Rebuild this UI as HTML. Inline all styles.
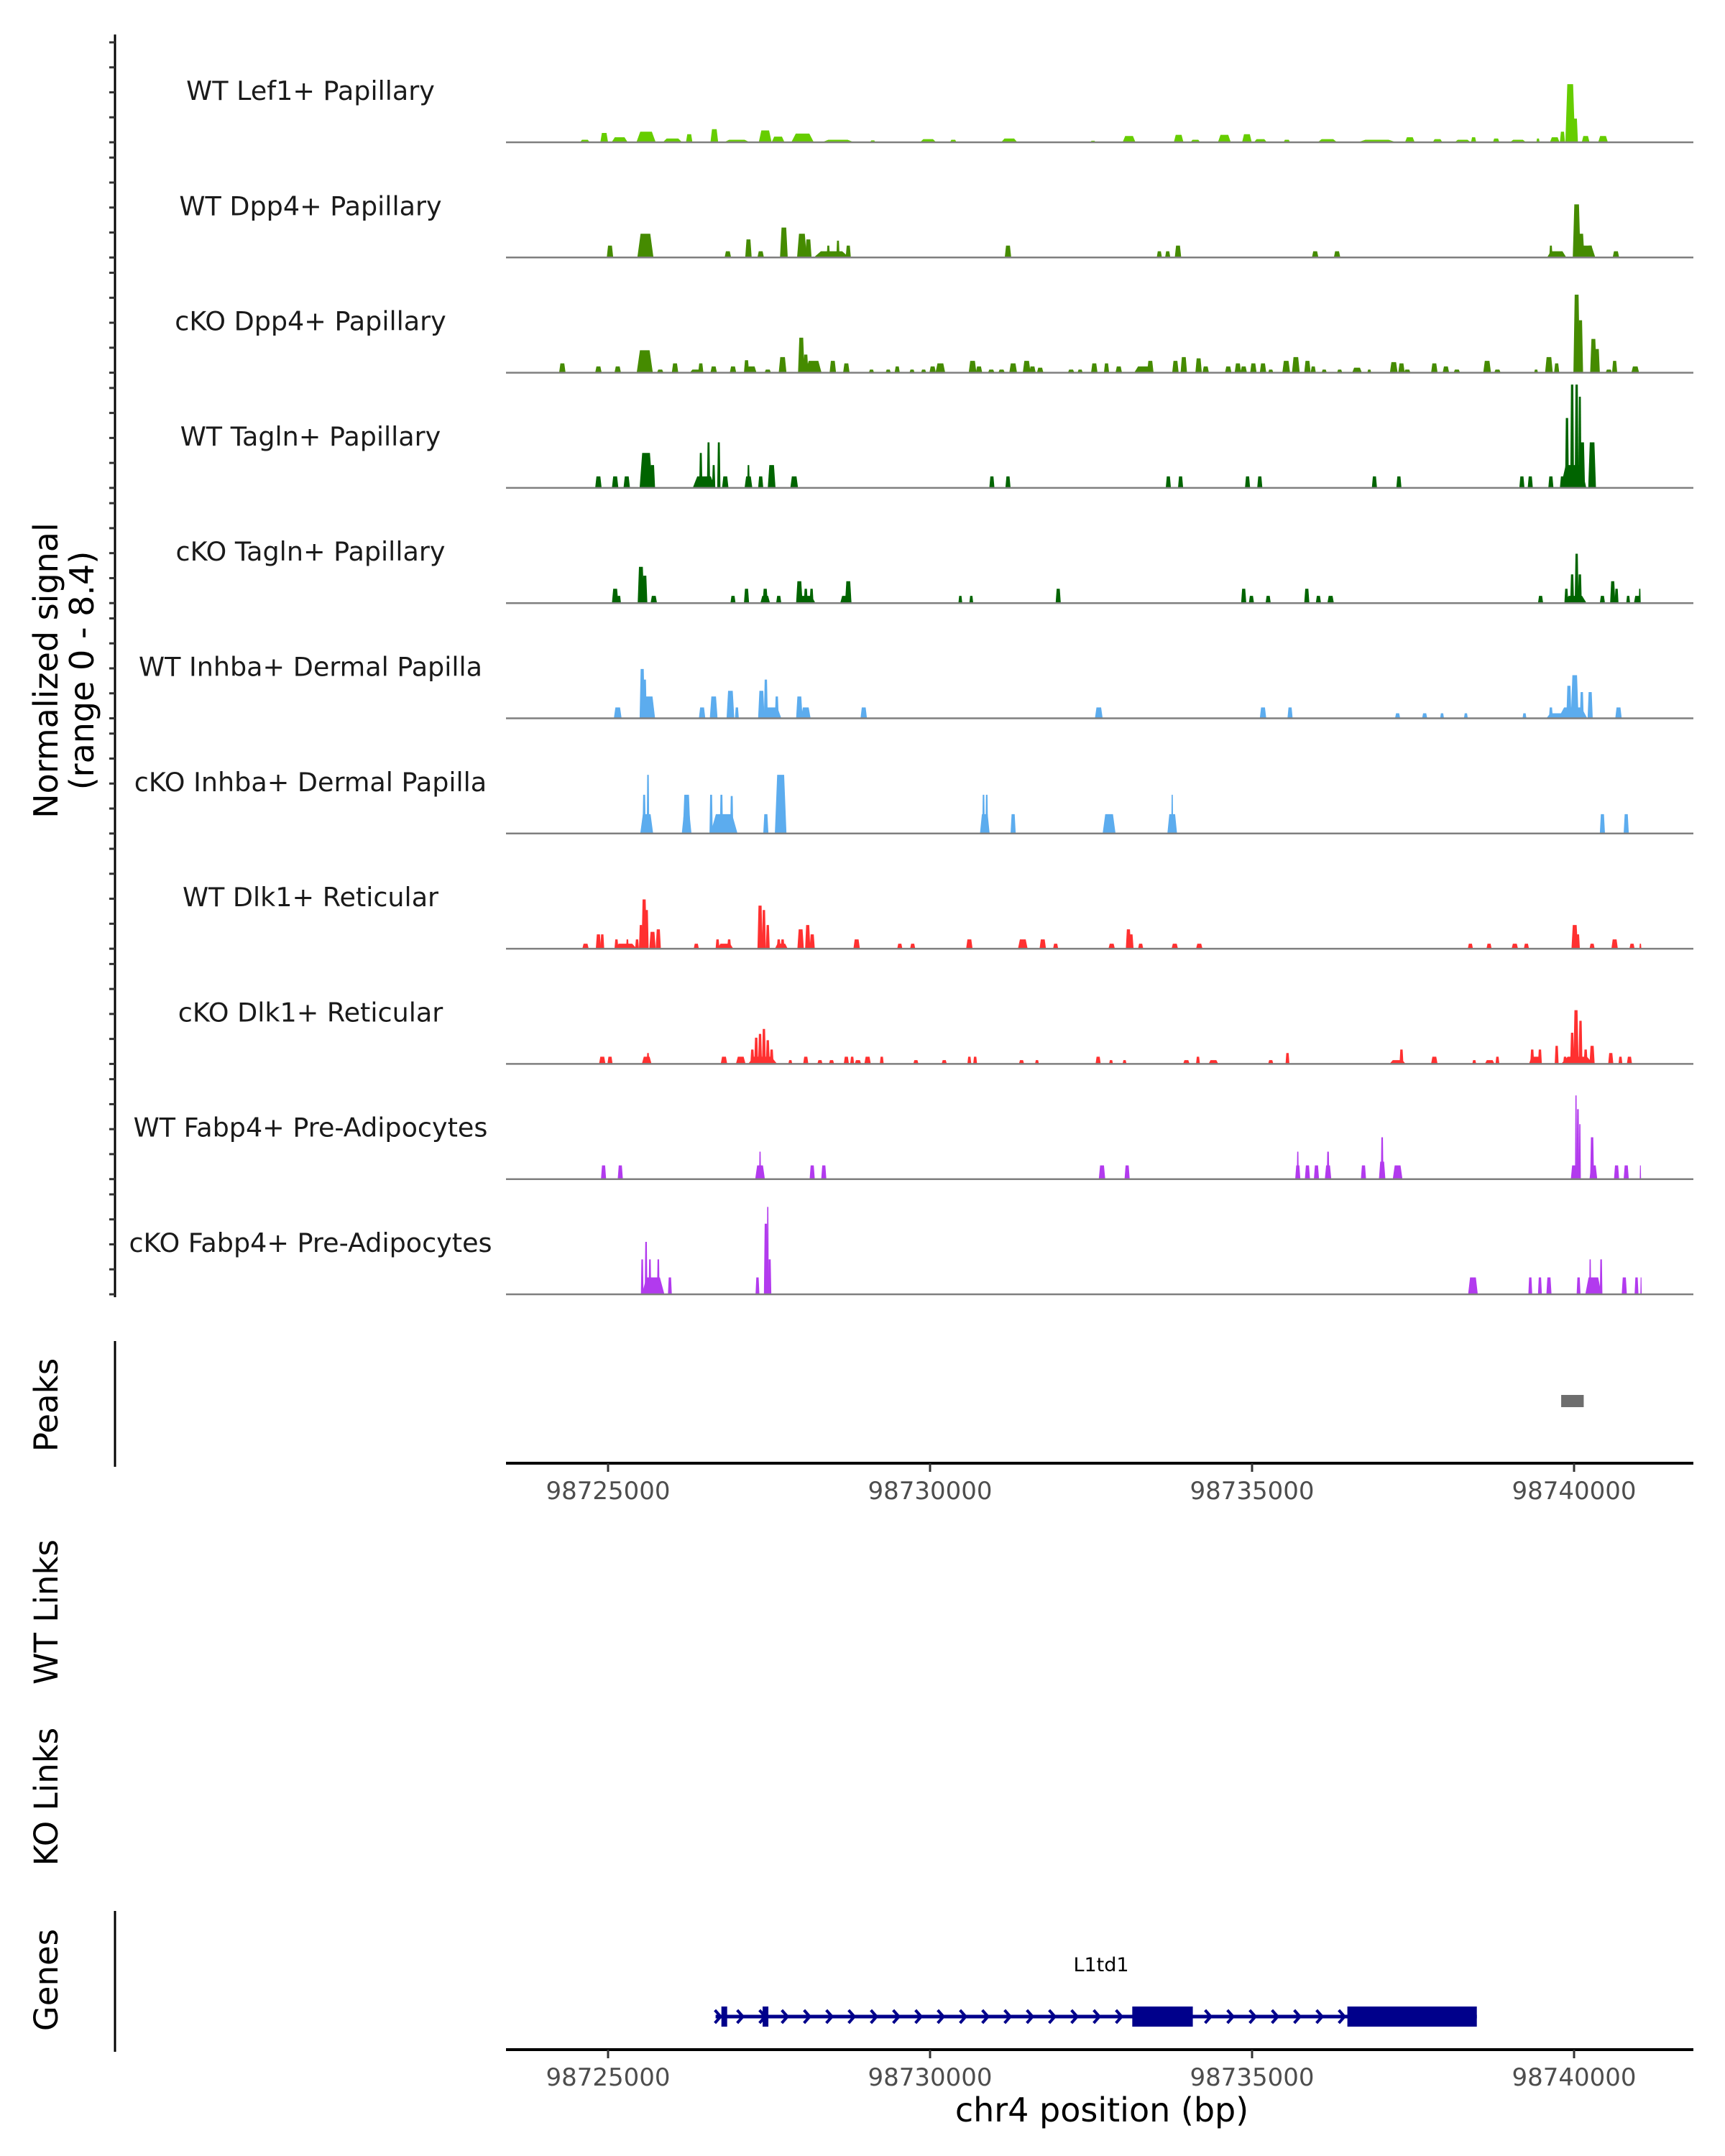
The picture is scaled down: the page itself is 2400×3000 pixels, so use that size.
<!DOCTYPE html>
<html><head><meta charset="utf-8">
<style>
html,body{margin:0;padding:0;background:#fff;}
svg{display:block;}
text{font-family:"DejaVu Sans","Liberation Sans",sans-serif;}
</style></head>
<body>
<svg id="chart" width="2400" height="3000" viewBox="0 0 2400 3000" xmlns="http://www.w3.org/2000/svg">
<rect x="0" y="0" width="2400" height="3000" fill="#ffffff"/>
</svg>
<script>
// ---- data (positions in kb relative to chr4:98,700,000; [center_kb, width_kb, signal]) ----
const trackNames = ["WT Lef1+ Papillary","WT Dpp4+ Papillary","cKO Dpp4+ Papillary","WT Tagln+ Papillary","cKO Tagln+ Papillary","WT Inhba+ Dermal Papilla","cKO Inhba+ Dermal Papilla","WT Dlk1+ Reticular","cKO Dlk1+ Reticular","WT Fabp4+ Pre-Adipocytes","cKO Fabp4+ Pre-Adipocytes"];
const trackColors = ["#66CD00","#458B00","#458B00","#006400","#006400","#5CACEE","#5CACEE","#FF3030","#FF3030","#B23AEE","#B23AEE"];
const WT_Lef1 = [[24.64,.15,.2],[24.94,.12,.75],[25.18,.25,.4],[25.59,.3,.85],[26.0,.3,.3],[26.26,.1,.65],[26.65,.12,1.05],[27.0,.4,.2],[27.44,.2,.95],[27.64,.2,.45],[28.02,.35,.7],[28.57,.5,.2],[29.11,.08,.15],[29.97,.25,.25],[30.36,.1,.2],[31.23,.25,.3],[32.53,.08,.12],[33.09,.2,.5],[33.86,.15,.6],[34.12,.15,.2],[34.57,.2,.6],[34.92,.15,.65],[35.13,.2,.25],[35.54,.1,.2],[36.17,.3,.25],[36.94,.6,.2],[37.45,.15,.4],[37.88,.15,.25],[38.27,.25,.2],[38.44,.08,.4],[38.79,.1,.3],[39.13,.25,.2],[39.44,.05,.3],[39.70,.15,.4],[39.82,.08,.85],[39.94,.15,4.65],[40.02,.08,1.9],[40.18,.12,.5],[40.45,.15,.5]];
const WT_Dpp4 = [[25.03,.1,.95],[25.58,.25,1.9],[26.86,.1,.5],[27.18,.1,1.45],[27.37,.1,.5],[27.73,.12,2.4],[28.01,.15,1.9],[28.11,.1,1.45],[28.47,.55,.5],[28.42,.05,.95],[28.57,.05,1.35],[28.73,.08,.95],[31.21,.1,.95],[33.56,.08,.5],[33.69,.08,.5],[33.85,.1,.95],[35.98,.1,.5],[36.32,.1,.5],[39.73,.3,.5],[39.64,.05,.95],[40.04,.12,4.25],[40.11,.1,1.9],[40.18,.3,.95],[40.25,.08,.95],[40.65,.1,.5]];
const cKO_Dpp4 = [[24.29,.1,.75],[24.85,.1,.5],[25.15,.1,.5],[25.57,.25,1.8],[25.81,.1,.25],[26.04,.1,.75],[26.37,.2,.25],[26.44,.08,.75],[26.64,.1,.5],[26.94,.1,.5],[27.15,.08,1.0],[27.23,.15,.5],[27.48,.1,.25],[27.71,.12,1.25],[28.0,.1,2.8],[28.07,.08,1.45],[28.19,.25,.95],[28.49,.1,.95],[28.70,.1,.75],[29.09,.08,.25],[29.35,.08,.25],[29.49,.08,.5],[29.72,.08,.25],[29.90,.08,.25],[30.04,.1,.5],[30.16,.15,.75],[30.66,.12,.95],[30.76,.1,.5],[30.95,.1,.25],[31.11,.1,.25],[31.29,.12,.75],[31.50,.12,.95],[31.59,.1,.5],[31.71,.1,.4],[32.19,.1,.25],[32.33,.08,.25],[32.55,.1,.75],[32.74,.08,.75],[32.93,.1,.5],[33.32,.3,.5],[33.42,.1,.95],[33.81,.1,.95],[33.94,.1,1.25],[34.17,.1,1.15],[34.28,.1,.5],[34.63,.1,.5],[34.78,.1,.75],[34.87,.1,.5],[35.02,.1,.75],[35.17,.1,.75],[35.29,.08,.25],[35.53,.12,.95],[35.68,.12,1.25],[35.86,.1,.95],[35.95,.08,.5],[36.12,.08,.25],[36.36,.08,.25],[36.63,.15,.4],[36.82,.06,.25],[37.20,.12,.85],[37.32,.1,.75],[37.41,.1,.25],[37.83,.1,.75],[38.01,.1,.5],[38.18,.1,.25],[38.65,.12,.95],[38.81,.1,.25],[39.41,.06,.25],[39.61,.12,1.25],[39.73,.08,.75],[40.04,.1,6.25],[40.10,.08,4.2],[40.30,.1,2.7],[40.36,.08,1.9],[40.54,.1,.25],[40.63,.08,.95],[40.95,.12,.5]];
const WT_Tagln = [[24.85,.1,.92],[25.11,.1,.92],[25.29,.1,.92],[25.59,.2,2.8],[25.69,.08,1.83],[26.49,.35,.92],[26.44,.05,2.8],[26.56,.05,3.65],[26.64,.05,1.83],[26.72,.05,3.65],[26.82,.1,.92],[27.18,.12,.92],[27.18,.04,1.83],[27.37,.08,.92],[27.54,.12,1.83],[27.89,.12,.92],[30.96,.08,.92],[31.21,.08,.92],[33.70,.08,.92],[33.89,.08,.92],[34.93,.08,.92],[35.12,.08,.92],[36.90,.08,.92],[37.28,.08,.92],[39.19,.08,.92],[39.32,.08,.92],[39.64,.08,.92],[39.82,.08,.92],[39.89,.06,5.6],[39.97,.06,8.27],[40.04,.06,8.27],[40.09,.05,7.3],[40.13,.08,3.65],[40.28,.12,3.65],[39.99,.4,1.83]];
const cKO_Tagln = [[25.11,.1,1.15],[25.17,.06,.58],[25.51,.1,2.9],[25.57,.08,2.2],[25.71,.1,.58],[26.94,.08,.58],[27.15,.08,1.15],[27.44,.08,1.15],[27.44,.15,.58],[27.65,.08,.58],[27.97,.1,1.75],[28.07,.06,1.15],[28.16,.06,1.15],[28.07,.3,.58],[28.73,.1,1.75],[28.68,.15,.58],[30.47,.06,.58],[30.64,.06,.58],[31.99,.08,1.15],[34.87,.08,1.15],[34.99,.08,.58],[35.25,.08,.58],[35.85,.08,1.15],[36.03,.08,.58],[36.22,.1,.58],[39.48,.08,.58],[39.88,.06,1.15],[39.97,.06,2.3],[40.04,.06,3.95],[40.09,.06,2.3],[40.02,.35,.58],[40.44,.08,.58],[40.60,.08,1.75],[40.66,.06,1.15],[40.84,.06,.58],[40.98,.1,.58],[41.02,.03,1.15]];
const WT_Inhba = [[25.15,.12,.87],[25.53,.08,3.95],[25.57,.06,3.1],[25.63,.2,1.75],[26.46,.1,.87],[26.64,.12,1.75],[26.90,.12,2.2],[27.0,.06,.87],[27.38,.1,2.2],[27.45,.06,3.1],[27.54,.3,.87],[27.62,.06,1.75],[27.97,.1,1.75],[28.07,.15,.87],[28.97,.1,.87],[32.62,.12,.87],[35.17,.1,.87],[35.59,.08,.87],[37.26,.08,.4],[37.68,.08,.4],[37.95,.06,.4],[38.32,.06,.4],[39.23,.06,.4],[39.72,.3,.4],[39.64,.06,.87],[39.92,.08,2.6],[40.01,.12,3.45],[39.98,.45,.87],[40.12,.06,2.1],[40.25,.08,2.1],[40.69,.1,.87]];
const cKO_Inhba = [[25.60,.2,1.55],[25.62,.04,4.7],[25.56,.05,3.1],[26.22,.12,3.1],[26.22,.15,1.55],[26.80,.42,1.55],[26.60,.05,3.1],[26.76,.05,3.1],[26.92,.05,3.0],[27.45,.08,1.55],[27.68,.18,4.7],[30.85,.15,1.55],[30.83,.04,3.1],[30.88,.04,3.1],[31.29,.08,1.55],[32.78,.2,1.55],[33.76,.15,1.55],[33.76,.03,3.1],[40.44,.08,1.55],[40.81,.08,1.55]];
const WT_Dlk1 = [[24.65,.1,.4],[24.85,.08,1.15],[24.91,.06,1.15],[25.13,.06,.75],[25.27,.35,.4],[25.30,.04,.75],[25.45,.06,.75],[25.51,.06,1.9],[25.56,.08,3.95],[25.60,.06,3.1],[25.69,.1,1.35],[25.78,.08,1.55],[26.37,.08,.4],[26.70,.06,.75],[26.88,.06,.75],[26.82,.25,.4],[27.36,.08,3.45],[27.42,.06,3.1],[27.48,.06,1.9],[27.65,.06,.75],[27.71,.06,.75],[27.69,.2,.4],[27.99,.1,1.55],[28.10,.08,1.9],[28.17,.08,1.15],[28.86,.1,.75],[29.53,.08,.4],[29.73,.08,.4],[30.61,.1,.75],[31.44,.15,.75],[31.75,.1,.75],[31.95,.08,.4],[32.82,.1,.4],[33.08,.08,1.55],[33.12,.08,1.15],[33.27,.08,.4],[33.80,.1,.4],[34.18,.1,.4],[38.39,.08,.4],[38.68,.08,.4],[39.08,.1,.4],[39.26,.08,.4],[40.01,.1,1.9],[40.06,.06,1.15],[40.28,.08,.4],[40.63,.1,.75],[40.90,.08,.4],[41.03,.03,.4]];
const cKO_Dlk1 = [[24.91,.1,.58],[25.03,.08,.58],[25.60,.15,.58],[25.62,.04,.87],[26.80,.1,.58],[27.06,.15,.58],[27.24,.06,1.15],[27.30,.06,2.1],[27.36,.06,2.4],[27.42,.06,2.8],[27.48,.06,1.9],[27.54,.06,1.15],[27.40,.45,.58],[27.83,.06,.3],[28.07,.08,.58],[28.29,.08,.3],[28.47,.08,.3],[28.70,.08,.58],[28.79,.06,.58],[28.88,.1,.3],[29.03,.1,.58],[29.25,.06,.58],[29.78,.08,.3],[30.22,.08,.3],[30.61,.06,.58],[30.70,.06,.58],[31.42,.08,.3],[31.66,.06,.3],[32.61,.08,.58],[32.81,.06,.3],[33.02,.06,.3],[33.98,.1,.3],[34.16,.06,.58],[34.40,.15,.3],[35.29,.08,.3],[35.55,.06,.87],[37.26,.25,.3],[37.32,.06,1.15],[37.83,.1,.58],[38.45,.06,.3],[38.69,.15,.3],[38.81,.06,.58],[39.40,.2,.58],[39.35,.06,1.15],[39.47,.06,1.15],[39.73,.06,1.45],[39.86,.06,.58],[40.05,.5,.58],[39.97,.06,2.5],[40.03,.08,4.3],[40.10,.06,3.45],[40.18,.06,1.15],[40.28,.08,1.45],[40.57,.08,.87],[40.72,.06,.58],[40.86,.08,.58]];
const WT_Fabp4 = [[24.93,.08,1.1],[25.19,.08,1.1],[27.36,.15,1.1],[27.36,.03,2.2],[28.17,.08,1.1],[28.35,.08,1.1],[32.67,.1,1.1],[33.06,.08,1.1],[35.71,.08,1.1],[35.71,.03,2.2],[35.86,.08,1.1],[36.0,.08,1.1],[36.18,.1,1.1],[36.18,.04,2.2],[36.73,.08,1.1],[37.02,.04,3.35],[37.02,.1,1.4],[37.26,.15,1.1],[40.03,.03,6.7],[40.06,.04,5.6],[40.09,.03,4.4],[40.0,.1,1.1],[40.28,.06,3.35],[40.30,.12,1.1],[40.66,.08,1.1],[40.81,.08,1.1],[41.03,.02,1.1]];
const cKO_Fabp4 = [[25.70,.35,1.35],[25.53,.04,2.8],[25.59,.04,4.2],[25.65,.04,2.8],[25.78,.04,2.8],[25.96,.06,1.35],[27.32,.06,1.35],[27.45,.06,5.65],[27.48,.03,7.0],[27.51,.05,2.8],[38.43,.15,1.35],[39.32,.06,1.35],[39.47,.06,1.35],[39.61,.08,1.35],[40.07,.06,1.35],[40.30,.25,1.35],[40.25,.03,2.8],[40.42,.04,2.8],[40.78,.08,1.35],[40.97,.06,1.35],[41.04,.02,1.35]];
const trackData = [WT_Lef1,WT_Dpp4,cKO_Dpp4,WT_Tagln,cKO_Tagln,WT_Inhba,cKO_Inhba,WT_Dlk1,cKO_Dlk1,WT_Fabp4,cKO_Fabp4];
const peakRegions = [[39.80,40.15]];
const xTicks = [25,30,35,40];
const xTickLabels = ["98725000","98730000","98735000","98740000"];
const geneName = "L1td1";
const geneSpan = [26.67,38.49];
const geneExons = [[26.76,26.84],[27.40,27.48],[33.14,34.08],[36.48,38.49]];
const yMax = 8.4;

// ---- scales ----
const X0 = 846, PXKB = 89.6, PL = 704, PR = 2356;
function xs(kb){ return X0 + (kb - 25) * PXKB; }
const BASE0 = 198, STEP = 160.3, UNIT = 146 / yMax;
function ys(i, v){ return BASE0 + i * STEP - v * UNIT; }

const NS = "http://www.w3.org/2000/svg";
const svg = document.getElementById("chart");
function mk(tag, attrs, parent){
  const e = document.createElementNS(NS, tag);
  for (const k in attrs) e.setAttribute(k, attrs[k]);
  (parent || svg).appendChild(e);
  return e;
}
const defs = mk("defs", {});
const cp = mk("clipPath", {id: "panelclip"}, defs);
mk("rect", {x: PL, y: 0, width: PR - PL, height: 3000}, cp);

const la = mk("line", {x1: 160, y1: 48, x2: 160, y2: 1805, stroke: "#000", "stroke-width": 3});



trackNames.forEach((name, i) => {
  const g = mk("g", {"clip-path": "url(#panelclip)"});
  
  
  const base = ys(i, 0);
  for (let k = 0; k <= 4; k++) {
    const t = mk("line", {x1: 152, x2: 160, y1: ys(i, k * 2), y2: ys(i, k * 2), stroke: "#333", "stroke-width": 3});
    
    
  }
  const data = trackData[i].slice().sort((a, b) => b[2] - a[2]);
  data.forEach(p => {
    const x0 = xs(p[0] - p[1] / 2), x1 = xs(p[0] + p[1] / 2), top = ys(i, p[2]);
    const s = (x1 - x0) * 0.2;
    const poly = mk("polygon", {points: `${x0},${base} ${x0 + s},${top} ${x1 - s},${top} ${x1},${base}`, fill: trackColors[i]}, g);
    
    
  });
  const bl = mk("line", {x1: PL, x2: PR, y1: base, y2: base, stroke: "#7f7f7f", "stroke-width": 2.5}, g);
  
  
  const lab = mk("text", {x: 432, y: base - 59, "text-anchor": "middle", "font-size": 36.5, fill: "#1a1a1a"});
  lab.textContent = name;
  
  
});

const yt = mk("text", {transform: "translate(80,933) rotate(-90)", "text-anchor": "middle", "font-size": 46, fill: "#000"});


const t1 = mk("tspan", {x: 0, dy: 0}, yt); t1.textContent = "Normalized signal";
const t2 = mk("tspan", {x: 0, dy: 50}, yt); t2.textContent = "(range 0 - 8.4)";

function sideLabel(txt, cy, name){
  const t = mk("text", {transform: `translate(80,${cy}) rotate(-90)`, "text-anchor": "middle", "font-size": 45, fill: "#000"});
  t.textContent = txt;
  
  
}
sideLabel("Peaks", 1955, "peaks-track-title");
sideLabel("WT Links", 2243, "wt-links-track-title");
sideLabel("KO Links", 2500, "ko-links-track-title");
sideLabel("Genes", 2755, "genes-track-title");

const pa = mk("line", {x1: 160, y1: 1866, x2: 160, y2: 2041, stroke: "#000", "stroke-width": 3});


peakRegions.forEach(r => {
  const pr = mk("rect", {x: xs(r[0]), y: 1941, width: xs(r[1]) - xs(r[0]), height: 17, fill: "#6e6e6e"});
  
  
});

function xAxis(y, name){
  const ax = mk("line", {x1: PL, x2: PR, y1: y, y2: y, stroke: "#000", "stroke-width": 4});
  
  
  xTicks.forEach((t, j) => {
    const tk = mk("line", {x1: xs(t), x2: xs(t), y1: y, y2: y + 12, stroke: "#333", "stroke-width": 3});
    
    
    const tl = mk("text", {x: xs(t), y: y + 50, "text-anchor": "middle", "font-size": 34, fill: "#4d4d4d"});
    tl.textContent = xTickLabels[j];
    
    
  });
}
xAxis(2036, "peaks-x-axis");

const ga = mk("line", {x1: 160, y1: 2659, x2: 160, y2: 2855, stroke: "#000", "stroke-width": 3});


const gg = mk("g", {});


const GY = 2806;
mk("line", {x1: xs(geneSpan[0]), x2: xs(geneSpan[1]), y1: GY, y2: GY, stroke: "#00008B", "stroke-width": 5}, gg);
for (let x = xs(geneSpan[0]) + 4; x < xs(geneSpan[1]) - 10; x += 31) {
  const inEx = geneExons.some(e => x > xs(e[0]) - 4 && x < xs(e[1]) + 4 && (xs(e[1]) - xs(e[0])) > 20);
  if (inEx) continue;
  const ch = mk("polyline", {points: `${x - 5},${GY - 9} ${x + 3},${GY} ${x - 5},${GY + 9}`, fill: "none", stroke: "#00008B", "stroke-width": 4}, gg);
  
  
}
geneExons.forEach(e => {
  const ex = mk("rect", {x: xs(e[0]), y: 2792, width: Math.max(xs(e[1]) - xs(e[0]), 8), height: 28, fill: "#00008B"}, gg);
  
  
});
const gl = mk("text", {x: 1532, y: 2743, "text-anchor": "middle", "font-size": 27, fill: "#000"});
gl.textContent = geneName;



xAxis(2852, "genes-x-axis");
const xt = mk("text", {x: 1533, y: 2952, "text-anchor": "middle", "font-size": 46, fill: "#000"});
xt.textContent = "chr4 position (bp)";


</script>
</body></html>
